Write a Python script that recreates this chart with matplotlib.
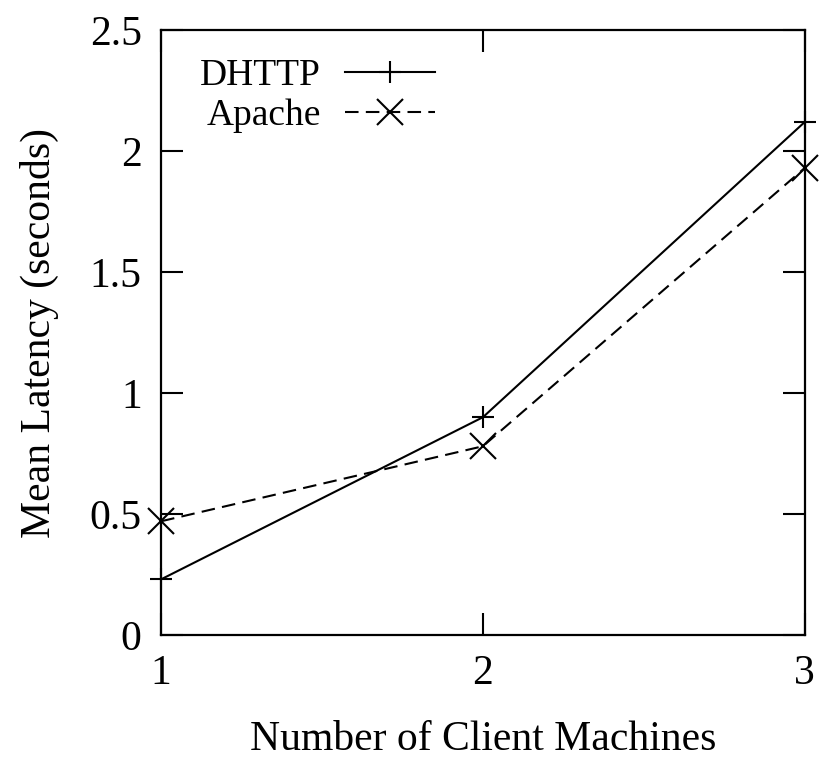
import matplotlib.pyplot as plt

# mean latency per number of client machines
clients = [1, 2, 3]
dhttp = [0.23, 0.90, 2.12]
apache = [0.47, 0.78, 1.93]

plt.rcParams['font.family'] = ['Liberation Serif', 'DejaVu Serif']

fig = plt.figure(figsize=(8.22, 7.59), dpi=100)
ax = fig.add_axes([0.196, 0.1634, 0.783, 0.797])

ax.plot(clients, dhttp, color='black', linestyle='-', linewidth=1.5,
        marker='+', markersize=16, markeredgewidth=1.5, label='DHTTP',
        clip_on=False, zorder=3)
ax.plot(clients, apache, color='black', linestyle=(0, (6.5, 3.5)), linewidth=1.5,
        marker='x', markersize=19, markeredgewidth=1.5, label='Apache',
        clip_on=False, zorder=3)

ax.set_xlim(1, 3)
ax.set_ylim(0, 2.5)
ax.set_xticks(clients)
ax.set_yticks([0, 0.5, 1, 1.5, 2, 2.5])
ax.set_yticklabels(['0', '0.5', '1', '1.5', '2', '2.5'])
ax.tick_params(direction='in', top=True, right=True, length=16, width=1.5,
               labelsize=30)
ax.tick_params(axis='x', pad=14)
ax.tick_params(axis='y', pad=14)
for s in ax.spines.values():
    s.set_linewidth(1.6)

ax.set_xlabel('Number of Client Machines', fontsize=30, labelpad=20)
ax.set_ylabel('Mean Latency (seconds)', fontsize=30, labelpad=22)

ax.legend(loc='upper left', frameon=False, markerfirst=False, fontsize=27,
          handlelength=2.4, handletextpad=0.65, labelspacing=0.15,
          borderpad=0, borderaxespad=0, bbox_to_anchor=(0.06, 0.953))

fig.savefig('out.png', dpi=100)
